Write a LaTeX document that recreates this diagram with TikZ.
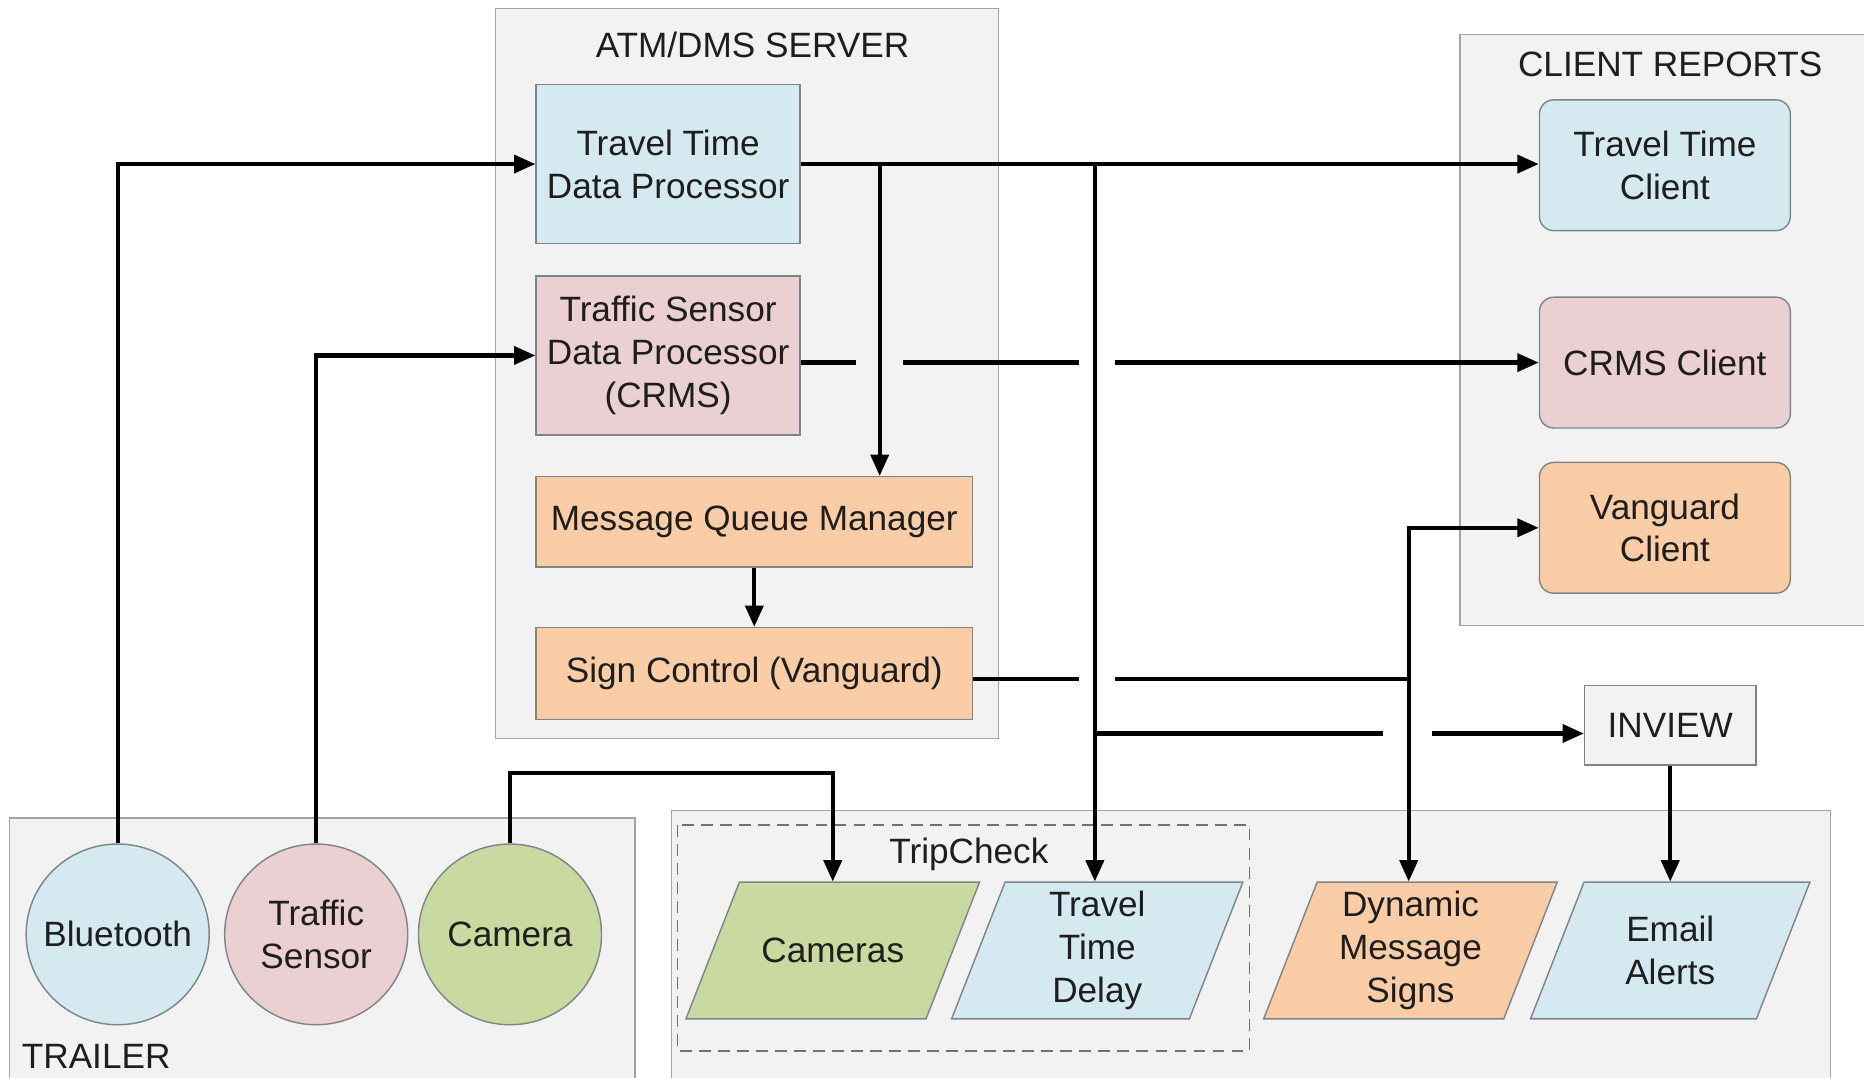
\documentclass[tikz,border=0pt]{standalone}
\usepackage{fontspec}
\setmainfont{Liberation Sans}
\usetikzlibrary{arrows.meta,calc,shapes.geometric}
\definecolor{tblue}{HTML}{D5EAF0}
\definecolor{tpink}{HTML}{EACFD3}
\definecolor{torange}{HTML}{FBCDA7}
\definecolor{tgreen}{HTML}{C9D99F}
\definecolor{cfill}{HTML}{F2F2F2}
\definecolor{cline}{HTML}{A3A3A3}
\definecolor{bline}{HTML}{7E8587}
\definecolor{txt}{HTML}{1E1E1E}
\newcommand\parall[3]{% center x, half side, fill
  \fill[#3] ({#1-#2+22.5},742) -- ({#1+#2+22.5},742) -- ({#1+#2-22.5},857) -- ({#1-#2-22.5},857) -- cycle;
  \draw[bline,line width=0.6pt] ({#1-#2+22.5},742) -- ({#1+#2+22.5},742) -- ({#1+#2-22.5},857) -- ({#1-#2-22.5},857) -- cycle;}
\newcommand\zbox[1]{\makebox[0pt][c]{#1}}
\begin{document}
\begin{tikzpicture}[x=0.5pt,y=-0.5pt,
  every node/.style={font=\fontsize{14.8pt}{18pt}\selectfont, text=txt},
  container/.style={draw=cline, fill=cfill, line width=0.6pt},
  procbox/.style={draw=bline, line width=0.6pt, align=center, inner sep=0pt},
  clientbox/.style={procbox, rounded corners=6pt, minimum width=105.5pt, minimum height=55pt},
  srcell/.style={draw=bline, line width=0.6pt, ellipse, minimum width=77pt, minimum height=76pt, align=center, inner sep=0pt},
  ptext/.style={align=center, inner sep=0pt, minimum height=57.5pt, minimum width=60pt},
  ln/.style={line width=1.8pt, black},
  arr/.style={ln, -{Triangle[length=9pt,width=7.5pt]}}]
\useasboundingbox (0,0) rectangle (1568,906);
\fill[white] (0,0) rectangle (1568,906);
% containers
\draw[container] (417,7) rectangle (840,621);
\node (atmtitle) at (633,38) {ATM/DMS SERVER};
\draw[container] (1228,29) rectangle (1575,526);
\node (crtitle) at (1405,54) {CLIENT REPORTS};
\draw[container] (8,688) rectangle (534,915);
\node[anchor=west, inner sep=0pt] (trtitle) at (18,889) {TRAILER};
\draw[container] (565,682) rectangle (1540,915);
\draw[cline!70!black, line width=0.7pt, dash pattern=on 5pt off 3pt] (570,694) rectangle (1051,884);
\node (tctitle) at (815,719) {TripCheck};
% server boxes
\node[procbox, fill=tblue, minimum width=111pt, minimum height=67pt] (ttdp) at (562,138) {Travel Time\\Data Processor};
\node[procbox, fill=tpink, minimum width=111pt, minimum height=67pt] (tsdp) at (562,299) {Traffic Sensor\\Data Processor\\(CRMS)};
\node[procbox, fill=torange, minimum width=183.5pt, minimum height=38pt] (mqm) at (634.5,439) {Message Queue Manager};
\node[procbox, fill=torange, minimum width=183.5pt, minimum height=38.5pt] (sc) at (634.5,566.5) {Sign Control (Vanguard)};
% clients
\node[clientbox, fill=tblue] (ttc) at (1400.5,139) {Travel Time\\Client};
\node[clientbox, fill=tpink] (crms) at (1400.5,305) {CRMS Client};
\node[clientbox, fill=torange] (vc) at (1400.5,444) {Vanguard\\Client};
\node[procbox, draw=cline!80!black, fill=cfill, minimum width=72pt, minimum height=33.5pt] (inview) at (1405,610) {INVIEW};
% trailer sources
\node[srcell, fill=tblue] (bt) at (99,786) {\zbox{Bluetooth}};
\node[srcell, fill=tpink] (ts) at (266,786) {\zbox{Traffic}\\\zbox{Sensor}};
\node[srcell, fill=tgreen] (cam) at (429,786) {\zbox{Camera}};
% outputs
\parall{700.5}{101}{tgreen}
\node[ptext] (cams) at (700.5,799.5) {Cameras};
\parall{923}{100}{tblue}
\node[ptext] (ttd) at (923,799.5) {Travel\\Time\\Delay};
\parall{1186.5}{101}{torange}
\node[ptext] (dms) at (1186.5,799.5) {Dynamic\\Message\\Signs};
\parall{1405}{95}{tblue}
\node[ptext] (email) at (1405,799.5) {Email\\Alerts};
% coordinates
\coordinate (camturn) at (429,650);
\coordinate (j1) at (740,138);
\coordinate (j2) at (921,138);
\coordinate (j3) at (921,617);
\coordinate (jv) at (1185,571);
\coordinate (ga1) at (720,305);
\coordinate (ga2) at (760,305);
\coordinate (gb1) at (908,305);
\coordinate (gb2) at (938,305);
\coordinate (gc1) at (908,571);
\coordinate (gc2) at (938,571);
\coordinate (gd1) at (1163,617);
\coordinate (gd2) at (1205,617);
% connectors
\draw[arr] (bt.north) |- (ttdp.west);
\draw[arr] (ts.north) |- (tsdp.west);
\draw[arr] (cam.north) -- (camturn) -| (cams.north);
\draw[arr] (ttdp.east) -- (ttdp.east -| ttc.west);
\draw[arr] (j1) -- (j1 |- mqm.north);
\draw[arr] (j2) -- (j2 |- ttd.north);
\draw[ln] (tsdp.east |- ga1) -- (ga1);
\draw[ln] (ga2) -- (gb1);
\draw[arr] (gb2) -- (gb2 -| crms.west);
\draw[arr] (mqm.south) -- (sc.north);
\draw[ln] (sc.east |- gc1) -- (gc1);
\draw[ln] (gc2) -- (jv);
\draw[arr] (jv) |- (vc.west);
\draw[arr] (jv) -- (jv |- dms.north);
\draw[ln] (j3) -- (gd1);
\draw[arr] (gd2) -- (gd2 -| inview.west);
\draw[arr] (inview.south -| email.north) -- (email.north);
\end{tikzpicture}
\end{document}
